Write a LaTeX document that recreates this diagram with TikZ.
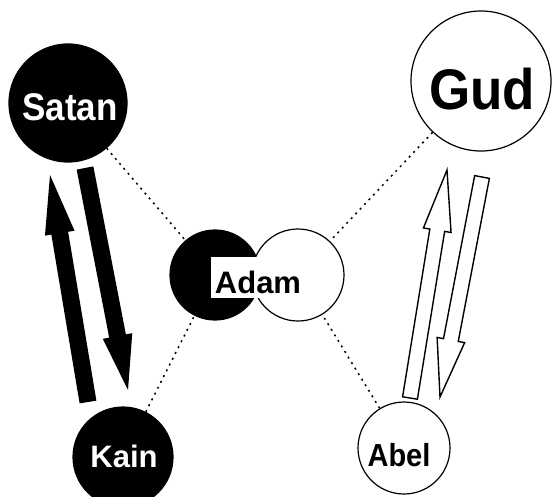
\documentclass[tikz,border=0pt]{standalone}
\usepackage{fontspec}
\setmainfont{Liberation Sans}
\usetikzlibrary{calc}
\newcommand\fatarr[6]{%
  \coordinate (fa-H) at ($(#2)!#5!(#1)$);
  \path[#6] ($(#1)!#3!90:(#2)$) -- ($(fa-H)!#3!90:(#2)$) -- ($(fa-H)!#4!90:(#2)$)
    -- (#2) -- ($(fa-H)!#4!-90:(#2)$) -- ($(fa-H)!#3!-90:(#2)$) -- ($(#1)!#3!-90:(#2)$) -- cycle;
}
\newcommand\tallt[2]{\scalebox{1}[#1]{#2}}
\tikzset{
  blackc/.style={circle, fill=black, draw=black, line width=1.2pt, text=white, inner sep=0pt, font=\bfseries},
  whitec/.style={circle, fill=white, draw=black, line width=1.2pt, text=black, inner sep=0pt, font=\bfseries},
  dotline/.style={line width=1.5pt, dash pattern=on 2pt off 4.5pt},
  solidarrow/.style={fill=black},
  hollowarrow/.style={fill=white, draw=black, line width=1.4pt, line join=miter},
}
\begin{document}
\begin{tikzpicture}[x=1pt, y=-1pt]
\useasboundingbox (0,0) rectangle (556,496);
\clip (0,0) rectangle (556,496);
\fill[white] (0,0) rectangle (556,496);

% circles
\node[blackc, minimum size=118pt] (satan) at (68,103) {};
\node[whitec, minimum size=140pt] (gud) at (481,81) {};
\node[blackc, minimum size=100pt] (kain) at (123,457) {};
\node[whitec, minimum size=92pt] (abel) at (404,448) {};
\node[blackc, minimum size=90pt] (adamL) at (215,275) {};
\node[whitec, minimum size=92pt] (adamR) at (298,275) {};

% dotted connectors
\draw[dotline] (satan) -- (adamL);
\draw[dotline] (kain) -- (adamL);
\draw[dotline] (gud) -- (adamR);
\draw[dotline] (abel) -- (adamR);

% labels
\node[text=white, font=\bfseries\fontsize{35}{35}\selectfont] (satant) at (70,107) {\tallt{1.1}{Satan}};
\node[text=black, font=\bfseries\fontsize{53}{53}\selectfont] (gudt) at (482,89) {\tallt{1.08}{Gud}};
\node[text=white, font=\bfseries\fontsize{31}{31}\selectfont] (kaint) at (124,456) {Kain};
\node[text=black, font=\bfseries\fontsize{29}{29}\selectfont] (abelt) at (399,455) {\tallt{1.1}{Abel}};
\node[fill=white, text=black, inner xsep=4pt, inner ysep=0pt, text height=36pt, text depth=5pt,
      anchor=base, font=\bfseries\fontsize{31}{31}\selectfont] (adamt) at (258,293) {Adam};

% arrows
\coordinate (a1s) at (88,402);
\coordinate (a1e) at (50,175);
\coordinate (a2s) at (85,168);
\coordinate (a2e) at (128,390);
\coordinate (a3s) at (410,398);
\coordinate (a3e) at (447,170);
\coordinate (a4s) at (482,177);
\coordinate (a4e) at (440,397);
\fatarr{a1s}{a1e}{8.5pt}{15pt}{59pt}{solidarrow}
\fatarr{a2s}{a2e}{8.5pt}{15pt}{55pt}{solidarrow}
\fatarr{a3s}{a3e}{7.5pt}{14pt}{61pt}{hollowarrow}
\fatarr{a4s}{a4e}{7.5pt}{14pt}{58pt}{hollowarrow}
\end{tikzpicture}
\end{document}
